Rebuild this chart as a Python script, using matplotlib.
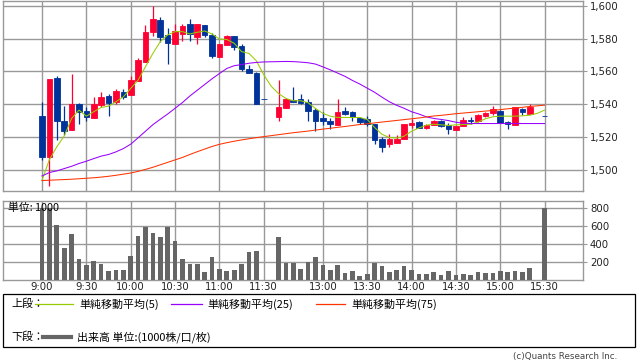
import numpy as np
import matplotlib.pyplot as plt
from matplotlib.lines import Line2D
from matplotlib.patches import Rectangle

nan = np.nan

# 5分足 (9:00 - 15:30), index 31 と 67 は空き
tick_pos = [0, 6, 12, 18, 24, 30, 38, 44, 50, 56, 62, 68]
tick_labels = ["9:00", "9:30", "10:00", "10:30", "11:00", "11:30",
               "13:00", "13:30", "14:00", "14:30", "15:00", "15:30"]

opens = [1532.7, 1507.8, 1556.0, 1529.7, 1524.3, 1540.1, 1535.8, 1531.7, 1539.5, 1544.9,
         1541.3, 1547.4, 1545.5, 1554.3, 1566.0, 1584.1, 1591.4, 1582.3, 1577.0, 1582.8,
         1589.0, 1581.2, 1588.4, 1582.2, 1569.0, 1576.1, 1581.7, 1575.5, 1561.3, 1559.3,
         1543.3, nan, 1532.3, 1537.8, 1542.5, 1543.3, 1541.5, 1536.2, 1531.5, 1529.9,
         1527.4, 1535.8, 1535.2, 1531.7, 1530.7, 1527.8, 1518.7, 1515.6, 1516.6, 1519.0,
         1527.4, 1529.4, 1525.4, 1527.2, 1529.8, 1527.2, 1524.2, 1526.8, 1530.1, 1529.8,
         1532.7, 1534.4, 1535.8, 1529.4, 1527.6, 1537.0, 1533.9, nan, 1532.5]
highs = [1541.5, 1555.4, 1557.2, 1538.8, 1558.6, 1540.9, 1538.0, 1544.1, 1547.2, 1546.1,
         1549.3, 1549.1, 1557.2, 1568.0, 1588.4, 1600.0, 1593.5, 1586.3, 1589.0, 1589.0,
         1592.0, 1589.0, 1588.4, 1583.6, 1576.8, 1582.3, 1581.7, 1576.8, 1563.7, 1559.9,
         1543.3, nan, 1554.7, 1543.9, 1550.3, 1546.2, 1543.1, 1537.6, 1535.2, 1531.7,
         1543.1, 1538.2, 1535.8, 1532.3, 1532.7, 1528.2, 1519.7, 1521.7, 1521.5, 1528.2,
         1530.7, 1529.8, 1527.8, 1530.3, 1530.3, 1528.6, 1526.8, 1531.9, 1531.9, 1533.9,
         1535.0, 1538.8, 1536.4, 1529.9, 1538.2, 1537.8, 1539.9, nan, 1532.5]
lows = [1506.2, 1490.3, 1518.0, 1521.1, 1524.3, 1527.8, 1529.9, 1531.7, 1538.4, 1532.7,
        1540.1, 1542.9, 1545.5, 1554.3, 1566.0, 1581.9, 1578.2, 1564.3, 1577.0, 1578.6,
        1578.6, 1576.6, 1580.8, 1568.4, 1569.0, 1576.1, 1573.1, 1560.3, 1559.3, 1540.1,
        1543.3, nan, 1529.9, 1537.8, 1541.1, 1539.9, 1529.7, 1523.8, 1527.2, 1524.6,
        1527.4, 1533.3, 1529.7, 1528.2, 1526.8, 1515.6, 1510.9, 1513.6, 1516.4, 1519.0,
        1525.2, 1525.2, 1524.6, 1527.2, 1526.2, 1521.7, 1524.2, 1526.8, 1528.2, 1529.4,
        1532.3, 1533.7, 1528.6, 1524.6, 1527.6, 1533.3, 1533.9, nan, 1532.5]
closes = [1507.8, 1555.4, 1529.9, 1523.7, 1540.1, 1535.4, 1532.3, 1540.1, 1544.3, 1540.9,
          1548.0, 1544.5, 1554.7, 1567.0, 1584.1, 1592.0, 1581.2, 1577.6, 1584.7, 1587.8,
          1582.8, 1589.0, 1582.2, 1569.6, 1576.8, 1581.9, 1575.1, 1561.7, 1559.3, 1540.1,
          1543.3, nan, 1538.4, 1543.3, 1541.1, 1540.9, 1536.0, 1529.7, 1529.9, 1528.2,
          1535.2, 1533.9, 1532.1, 1529.1, 1527.8, 1518.0, 1514.0, 1518.7, 1518.9, 1527.8,
          1528.4, 1525.6, 1527.2, 1529.8, 1526.8, 1524.6, 1526.8, 1530.3, 1529.8, 1533.3,
          1534.4, 1537.0, 1528.6, 1527.8, 1538.2, 1535.0, 1538.0, nan, 1532.5]

ma5 = [1493.6, 1506.2, 1514.0, 1520.5, 1531.3, 1536.4, 1532.7, 1535.4, 1538.0, 1538.8,
       1541.5, 1544.5, 1549.6, 1554.7, 1562.9, 1571.0, 1578.2, 1582.3, 1584.3, 1584.3,
       1582.9, 1583.9, 1584.7, 1582.9, 1579.8, 1579.5, 1577.2, 1572.1, 1571.0, 1566.5,
       1558.0, 1551.0, 1546.5, 1543.5, 1542.1, 1542.1, 1540.9, 1537.4, 1534.4, 1532.7,
       1531.9, 1531.9, 1531.9, 1531.9, 1530.7, 1525.8, 1521.6, 1519.7, 1519.3, 1520.5,
       1523.5, 1525.5, 1527.2, 1527.8, 1527.4, 1527.0, 1527.4, 1527.6, 1527.8, 1529.1,
       1531.1, 1532.3, 1532.7, 1532.7, 1532.7, 1532.9, 1533.3, 1534.4, 1536.4]
ma25 = [1496.2, 1498.3, 1499.3, 1500.7, 1502.1, 1503.8, 1505.2, 1506.8, 1508.3, 1509.3,
        1510.9, 1512.9, 1515.6, 1519.5, 1523.5, 1527.5, 1530.8, 1534.0, 1537.5, 1541.0,
        1545.0, 1548.5, 1552.0, 1555.5, 1558.7, 1561.8, 1563.5, 1564.2, 1565.0, 1565.5,
        1565.8, 1565.9, 1566.0, 1566.1, 1566.0, 1565.7, 1565.3, 1564.5, 1562.8, 1561.0,
        1559.0, 1557.0, 1554.5, 1552.3, 1549.8, 1547.3, 1544.3, 1541.5, 1539.3, 1537.5,
        1535.4, 1534.0, 1532.3, 1531.3, 1530.7, 1530.0, 1529.0, 1528.4, 1528.2, 1528.2,
        1528.2, 1528.2, 1528.2, 1528.2, 1528.2, 1528.2, 1528.2, 1528.2, 1528.2]
ma75 = [1493.4, 1493.6, 1493.8, 1494.0, 1494.2, 1494.5, 1494.8, 1495.1, 1495.5, 1496.0,
        1496.6, 1497.3, 1498.0, 1499.0, 1500.2, 1501.5, 1503.0, 1504.5, 1506.0, 1507.5,
        1509.3, 1511.0, 1512.6, 1514.2, 1515.5, 1516.5, 1517.4, 1518.2, 1518.9, 1519.6,
        1520.2, 1520.8, 1521.4, 1522.0, 1522.6, 1523.1, 1523.6, 1524.2, 1524.8, 1525.3,
        1525.9, 1526.4, 1527.0, 1527.6, 1528.0, 1528.6, 1529.1, 1529.6, 1530.1, 1530.6,
        1531.1, 1531.6, 1532.2, 1532.8, 1533.2, 1533.7, 1534.2, 1534.6, 1535.0, 1535.4,
        1535.8, 1536.2, 1536.7, 1537.2, 1537.6, 1538.1, 1538.6, 1539.0, 1539.4]

volume = [800, 800, 615, 356, 515, 233, 167, 215, 178, 104,
          115, 115, 267, 489, 596, 526, 478, 589, 433, 233,
          178, 178, 89, 256, 122, 104, 115, 178, 311, 326,
          5, 0, 478, 193, 193, 126, 200, 256, 170, 115,
          170, 78, 104, 44, 67, 193, 156, 93, 115, 156,
          115, 67, 67, 93, 56, 104, 56, 67, 56, 93,
          78, 78, 104, 93, 104, 93, 133, 0, 800]

RED = "#ff0033"
BLUE = "#003399"
GRID = "#999999"
W, H = 638, 362

plt.rcParams['font.family'] = ['DejaVu Sans', 'Noto Sans CJK JP']
jp = ['Noto Sans CJK JP', 'DejaVu Sans']

fig = plt.figure(figsize=(W / 100, H / 100), dpi=100)
fig.patch.set_facecolor("white")


def box(l, t, r, b):
    return [l / W, 1 - b / H, (r - l) / W, (b - t) / H]


ax = fig.add_axes(box(3, 1, 583, 190.7))
ax2 = fig.add_axes(box(3, 201.3, 583, 280))

x = np.arange(len(opens))
o = np.array(opens); h = np.array(highs); l = np.array(lows); c = np.array(closes)
ok = ~np.isnan(o)
cols = np.where(c[ok] > o[ok], RED, BLUE)

ax.vlines(x[ok], l[ok], h[ok], colors=cols, lw=0.9, zorder=3)
ax.bar(x[ok], np.abs(c[ok] - o[ok]), bottom=np.minimum(o[ok], c[ok]), width=0.76,
       color=cols, edgecolor=cols, linewidth=0.6, zorder=3)
ax.plot(x, ma5, color="#99cc00", lw=0.75, zorder=4)
ax.plot(x, ma25, color="#9900ff", lw=0.75, zorder=4)
ax.plot(x, ma75, color="#ff3300", lw=0.75, zorder=4)

ax2.bar(x, volume, width=0.63, color="#666666", zorder=3)

for a in (ax, ax2):
    a.set_xlim(-5.28, 73.2)
    a.set_xticks(tick_pos)
    a.grid(True, color=GRID, lw=1.0, zorder=0)
    a.set_axisbelow(True)
    for s in a.spines.values():
        s.set_color(GRID)
        s.set_linewidth(1.0)
    a.tick_params(axis="y", left=False, labelleft=False, right=True, labelright=True,
                  length=3, color=GRID, labelsize=7.3, pad=2, labelcolor="#222222")

ax.set_ylim(1487.2, 1603)
ax.set_yticks([1500, 1520, 1540, 1560, 1580, 1600])
ax.set_yticklabels(["1,500", "1,520", "1,540", "1,560", "1,580", "1,600"])
ax.tick_params(axis="x", length=0, labelbottom=False)

ax2.set_ylim(0, 880)
ax2.set_yticks([200, 400, 600, 800])
ax2.set_xticklabels(tick_labels)
ax2.tick_params(axis="x", length=0, labelsize=7.3, pad=1.5, labelcolor="#222222")
ax2.text(0.009, 0.915, "単位: 1000", transform=ax2.transAxes, fontsize=7.8,
         family=jp, va="center", ha="left", zorder=5)

# 凡例ボックス
fig.add_artist(Rectangle((3 / W, 1 - 347 / H), 632 / W, 53 / H, transform=fig.transFigure,
                         fill=False, edgecolor="black", lw=0.9))


def fx(px):
    return px / W


def fy(py):
    return 1 - py / H


def leg_line(x0, x1, y, color, lw):
    fig.add_artist(Line2D([fx(x0), fx(x1)], [fy(y), fy(y)], color=color, lw=lw,
                          transform=fig.transFigure))


fs = 7.9
fig.text(fx(11), fy(304), "上段：", fontsize=fs, family=jp, va="center")
leg_line(35, 73, 304, "#99cc00", 0.9)
fig.text(fx(79), fy(304), "単純移動平均(5)", fontsize=fs, family=jp, va="center")
leg_line(171, 202, 304, "#9900ff", 0.9)
fig.text(fx(207), fy(304), "単純移動平均(25)", fontsize=fs, family=jp, va="center")
leg_line(316, 345, 304, "#ff3300", 0.9)
fig.text(fx(351), fy(304), "単純移動平均(75)", fontsize=fs, family=jp, va="center")

fig.text(fx(11), fy(337), "下段：", fontsize=fs, family=jp, va="center")
leg_line(43, 71, 337, "#666666", 3.0)
fig.text(fx(77), fy(337), "出来高 単位:(1000株/口/枚)", fontsize=fs, family=jp, va="center")

fig.text(fx(617), fy(356), "(c)Quants Research Inc.", fontsize=6.3, color="#444444",
         ha="right", va="center")

fig.savefig("out.png", dpi=100)
